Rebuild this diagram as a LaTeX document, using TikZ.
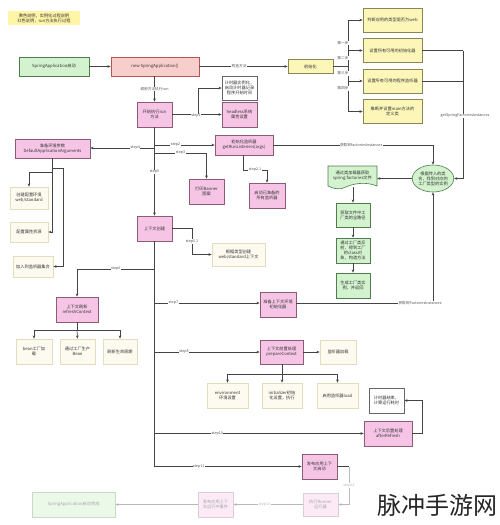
\documentclass[tikz,border=0pt]{standalone}
\usepackage{fontspec}
\newfontfamily\cjk{Noto Sans CJK SC}
\usetikzlibrary{arrows.meta,shapes.geometric}
\definecolor{pinkF}{HTML}{F6C5E6}
\definecolor{pinkD}{HTML}{8E5A7A}
\definecolor{redF}{HTML}{F8CECC}
\definecolor{redD}{HTML}{B85450}
\definecolor{yelF}{HTML}{FCF7B8}
\definecolor{yelD}{HTML}{8A8754}
\definecolor{grnF}{HTML}{D3F2CE}
\definecolor{grnD}{HTML}{4F7D4F}
\definecolor{crmF}{HTML}{FDFBEF}
\definecolor{crmD}{HTML}{E4DCBC}
\definecolor{lineC}{HTML}{444444}
\definecolor{lblC}{HTML}{555555}
\definecolor{noteF}{HTML}{FFF5A6}
\definecolor{fadeC}{HTML}{B8B8B8}
\begin{document}
\begin{tikzpicture}[x=1pt,y=-1pt,
  every node/.style={font=\cjk\fontsize{4.2}{5}\selectfont, align=center, inner sep=0.5pt, text=black!80},
  bx/.style={draw, line width=0.6pt, rectangle},
  pinkb/.style={bx, fill=pinkF, draw=pinkD},
  redb/.style={bx, fill=redF, draw=redD},
  yelb/.style={bx, fill=yelF, draw=yelD},
  grnb/.style={bx, fill=grnF, draw=grnD},
  crmb/.style={bx, fill=crmF, draw=crmD},
  whb/.style={bx, fill=white, draw=black!60},
  ln/.style={draw=lineC, line width=0.7pt},
  conn/.style={ln, -{Stealth[length=3.2pt,width=2.6pt]}},
  fconn/.style={draw=fadeC, line width=0.7pt, -{Stealth[length=3.2pt,width=2.6pt]}},
  lbl/.style={fill=white, text=lblC, font=\cjk\fontsize{3.7}{4.4}\selectfont, inner sep=0.4pt},
  flbl/.style={lbl, text=fadeC}
]
\useasboundingbox[fill=white] (0,0) rectangle (500,525);

% note
\node[fill=noteF, minimum width=72pt, minimum height=14pt] (note) at (44,18) {黄色说明，实例化过程说明\\红色说明，run方法执行过程};

% top row
\node[grnb, minimum width=70pt, minimum height=19pt] (start) at (54,66.5) {SpringApplication启动};
\node[redb, minimum width=88pt, minimum height=19pt] (newsa) at (155,66.5) {new SpringApplication()};
\node[yelb, minimum width=45pt, minimum height=14pt] (init) at (310.5,66.5) {初始化};
\node[yelb, minimum width=59pt, minimum height=24pt] (ya) at (392.5,20) {判断应用的类型是否为web};
\node[yelb, minimum width=59pt, minimum height=24pt] (yb) at (392.5,50.5) {设置所有可用的初始化器};
\node[yelb, minimum width=59pt, minimum height=24pt] (yc) at (392.5,81) {设置所有可用的程序监听器};
\node[yelb, minimum width=59pt, minimum height=24pt] (yd) at (392.5,111.5) {推断并设置main方法的\\定义类};

\draw[conn] (start) -- (newsa);
\draw[conn] (newsa.east |- init.west) -- node[lbl, pos=0.45]{构造方法} (init.west);
\coordinate (bus) at (348,66.5);
\draw[ln] (init.east) -- (bus);
\draw[ln] (bus |- ya.west) -- (bus |- yd.west);
\draw[conn] (bus |- ya.west) -- (ya.west);
\draw[conn] (bus |- yb.west) -- (yb.west);
\draw[conn] (bus |- yc.west) -- (yc.west);
\draw[conn] (bus |- yd.west) -- (yd.west);
\node[lbl] at (343,43) {第一步};
\node[lbl] at (343,58) {第二步};
\node[lbl] at (343,73.5) {第三步};
\node[lbl] at (343,88.5) {第四步};

% factories ellipse and chain
\node[ellipse, draw=grnD, line width=0.6pt, fill=grnF, minimum width=40pt, minimum height=27pt, inner sep=0pt] (ell) at (433,178.5) {根据传入的类\\名，找到对应的\\工厂类型的实例};
\coordinate (rv) at (463,178.5);
\draw[ln] (yb.east) -- (yb.east -| rv);
\draw[ln] (yc.east) -- (yc.east -| rv);
\draw[conn] (yb.east -| rv) -- (rv) -- (ell.east);
\node[lbl] at (465,116) {getSpringFactoriesInstances};

\fill[grnF] (328,166) -- (377,166) -- (377,186) .. controls (365,181) and (352,184) .. (346,187) .. controls (340,190) and (334,189) .. (328,186) -- cycle;
\draw[grnD, line width=0.6pt] (328,166) -- (377,166) -- (377,186) .. controls (365,181) and (352,184) .. (346,187) .. controls (340,190) and (334,189) .. (328,186) -- cycle;
\node[minimum width=49pt, minimum height=22pt] (doc) at (352.5,176) {通过类加载器获取\\spring.factories文件};
\node[grnb, minimum width=34pt, minimum height=24pt] (g1) at (353,215) {获取文件中工\\厂类的全路径};
\node[grnb, minimum width=34pt, minimum height=25pt] (g2) at (353,250.5) {通过工厂类反\\射，得到工厂\\的class对\\象，构造方法};
\node[grnb, minimum width=34pt, minimum height=25pt] (g3) at (353,285.5) {生成工厂类实\\例，并返回};
\draw[conn] (ell.west) -- (doc.east |- ell.west);
\draw[conn] (g1.north |- doc.south) -- (g1.north);
\draw[conn] (g1) -- (g2);
\draw[conn] (g2) -- (g3);

% run
\node[pinkb, minimum width=35pt, minimum height=25pt] (run) at (154.5,114.5) {开始执行run\\方法};
\draw[conn] (run.north |- newsa.south) -- node[lbl]{调用方法执行run} (run.north);
\node[whb, minimum width=35pt, minimum height=24pt] (timer) at (239.5,88) {计时器实例化，\\启动计时器记录\\程序开始时间};
\node[pinkb, minimum width=35pt, minimum height=25pt] (headless) at (239.5,114.5) {headless系统\\属性设置};
\coordinate (s1) at (198,114.5);
\draw[ln] (run.east) -- (s1);
\draw[conn] (s1) -- (s1 |- timer.west) -- (timer.west);
\draw[conn] (s1) -- (headless.west);
\node[lbl] at (196,116) {step1};

% trunk
\node[pinkb, minimum width=75pt, minimum height=19pt] (args) at (52.5,148.5) {准备环境参数\\DefaultApplicationArguments};
\node[pinkb, minimum width=58pt, minimum height=20pt] (lis) at (244,145) {初始化监听器\\getRunListeners(args)};
\node[pinkb, minimum width=35pt, minimum height=25pt] (banner) at (206.5,191.5) {打印Banner\\图案};
\node[pinkb, minimum width=36pt, minimum height=25pt] (lis2) at (267,195.5) {启动已准备的\\所有监听器};
\node[pinkb, minimum width=35pt, minimum height=25pt] (ctx) at (154.5,228.5) {上下文创建};
\node[crmb, minimum width=53pt, minimum height=23pt] (ctx2) at (238.5,254.5) {根据类型创建\\web/standard上下文};

\draw[conn] (run.south) -- (ctx.north);
\node[lbl] at (154.5,172) {step5};
\coordinate (t2) at (154.5,145);
\coordinate (t4) at (154.5,148);
\coordinate (t3) at (154.5,153);
\draw[conn] (t2) -- node[lbl, pos=0.35]{step2} (lis.west);
\draw[conn] (t4) -- node[lbl, pos=0.3]{step4} (args.east |- t4);
\draw[conn] (t3) -- node[lbl, pos=0.5]{step3} (banner.north |- t3) -- (banner.north);
\draw[conn] (lis.south -| 243,0) -- (243,170) -- node[lbl]{step2.1} (lis2.north |- 0,170) -- (lis2.north);
\draw[conn] (lis.east) -- node[lbl, pos=0.55]{获取到factoriesInstances} (ell.north |- lis.east) -- (ell.north);

\draw[conn] (ctx.east) -- (192,228.5) -- node[lbl, pos=0.5]{step5.1} (192,254.5) -- (ctx2.west);

% args children
\node[crmb, minimum width=38pt, minimum height=22pt] (e1) at (29,198) {创建配置环境\\web/standard};
\node[crmb, minimum width=38pt, minimum height=20pt] (e2) at (29,232) {配置属性资源};
\node[crmb, minimum width=40pt, minimum height=21pt] (e3) at (33,266.5) {加入到监听器集合};
\draw[conn] (52,158) -- (52,232) -- (e2.east);
\draw[conn] (52,172) -- (29,172) -- (e1.north);
\draw[conn] (52,168) -- (63,168) -- (63,266.5) -- (e3.east);

% refresh
\node[pinkb, minimum width=42pt, minimum height=25pt] (refresh) at (77,309.5) {上下文刷新\\refreshContext};
\node[crmb, minimum width=36pt, minimum height=25pt] (r1) at (34,351.5) {bean工厂加\\载};
\node[crmb, minimum width=35pt, minimum height=25pt] (r2) at (77.5,351.5) {通过工厂生产\\Bean};
\node[crmb, minimum width=34pt, minimum height=25pt] (r3) at (120,351.5) {刷新生命周期};
\coordinate (t6) at (154.5,269);
\draw[conn] (t6) -- node[lbl, pos=0.5]{step6} (refresh.north |- t6) -- (refresh.north);
\draw[ln] (refresh.south) -- (77,330);
\draw[ln] (r1.north |- 0,330) -- (r3.north |- 0,330);
\draw[conn] (r1.north |- 0,330) -- (r1.north);
\draw[conn] (77,330) -- (r2.north);
\draw[conn] (r3.north |- 0,330) -- (r3.north);

% step7
\node[pinkb, minimum width=36pt, minimum height=25pt] (prep) at (278,304.5) {准备上下文环境\\初始化器};
\coordinate (t7) at (154.5,303);
\draw[conn] (t7) -- node[lbl, pos=0.18]{step7} (prep.west |- t7);
\draw[conn] (prep.east |- t7) -- (ell.south |- t7) -- (ell.south);
\node[lbl] at (420,303) {获取到FactoriesInstances};

% step8
\node[pinkb, minimum width=43pt, minimum height=24pt] (pc) at (281.5,352) {上下文前置处理\\prepareContext};
\node[crmb, minimum width=36pt, minimum height=24pt] (pc2) at (338,352) {监听器加载};
\node[crmb, minimum width=41pt, minimum height=25pt] (pca) at (227.5,395.5) {environment\\环境设置};
\node[crmb, minimum width=40pt, minimum height=25pt] (pcb) at (282,395.5) {initializer初始\\化设置，执行};
\node[crmb, minimum width=41pt, minimum height=25pt] (pcc) at (337.5,395.5) {启用监听器load};
\coordinate (t8) at (154.5,352);
\draw[conn] (t8) -- node[lbl, pos=0.28]{step8} (pc.west);
\draw[conn] (pc.east) -- (pc2.west);
\draw[ln] (pc.south -| pcb.north) -- (282,374);
\draw[ln] (pca.north |- 0,374) -- (pcc.north |- 0,374);
\draw[conn] (pca.north |- 0,374) -- (pca.north);
\draw[conn] (282,374) -- (pcb.north);
\draw[conn] (pcc.north |- 0,374) -- (pcc.north);

% step10
\node[pinkb, minimum width=48pt, minimum height=25pt] (after) at (388,433.5) {上下文后置处理\\afterRefresh};
\node[whb, minimum width=35pt, minimum height=25pt] (tend) at (386.5,400.5) {计时器结束，\\计算运行耗时};
\coordinate (t10) at (154.5,433.5);
\draw[conn] (t10) -- node[lbl, pos=0.3]{step10} (after.west);
\draw[conn] (after.east) -- (422,433.5) -- (422,400.5) -- (tend.east);

% step11
\node[pinkb, minimum width=35pt, minimum height=25pt] (pub) at (319.5,466.5) {发布应用上下\\文启动};
\coordinate (t11) at (154.5,466.5);
\draw[ln] (ctx.south) -- (t11);
\draw[conn] (t11) -- node[lbl, pos=0.3]{step11} (pub.west);

% faded chain
\node[bx, fill=pinkF!35, draw=pinkD!30, text=black!35, minimum width=35pt, minimum height=23pt] (runner) at (320.5,504.5) {执行Runner\\运行器};
\node[bx, fill=pinkF!35, draw=pinkD!30, text=black!35, minimum width=35pt, minimum height=25pt] (fpub) at (215.5,504.5) {发布应用上下\\文运行中事件};
\node[bx, fill=grnF!45, draw=grnD!30, text=black!35, minimum width=83pt, minimum height=25pt] (fend) at (73.5,504.5) {SpringApplication启动完成};
\draw[ln] (pub.east) -- (349,466.5);
\draw[fconn] (349,466.5) -- node[flbl, pos=0.5]{step12} (349,504.5) -- (runner.east);
\draw[fconn] (runner.west) -- node[flbl, pos=0.55]{step13} (fpub.east);
\draw[fconn] (fpub.west) -- (fend.east);

% watermark
\node[font=\cjk\fontsize{24}{26}\selectfont, text=black!85] (wm) at (437,505) {脉冲手游网};
\end{tikzpicture}
\end{document}
